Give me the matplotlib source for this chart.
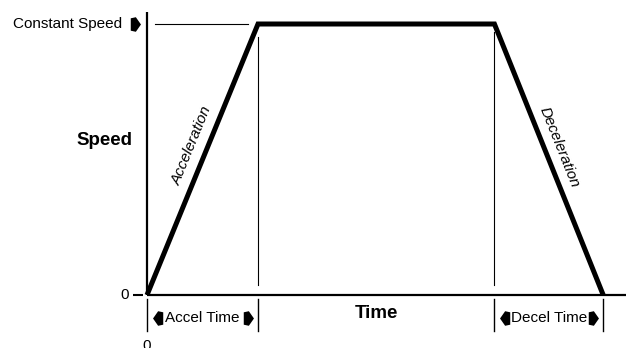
import numpy as np
import matplotlib
matplotlib.use("Agg")
import matplotlib.pyplot as plt
from matplotlib.transforms import offset_copy

plt.rcParams["font.family"] = ["Liberation Sans", "DejaVu Sans"]

# Trapezoidal speed profile (time in accel-time units, speed normalised)
time = [0.0, 1.0, 3.13, 4.11]
speed = [0.0, 1.0, 1.0, 0.0]
phase_bounds = [0.0, 1.0, 3.13, 4.11]
y_labels = ["0", "Constant Speed"]
x_labels = ["Accel Time", "Time", "Decel Time"]
axis_title = "Speed"

W, H, DPI = 626, 348, 100
fig = plt.figure(figsize=(W / DPI, H / DPI), dpi=DPI)
ax = fig.add_axes([0, 0, 1, 1])
ax.set_xlim(-147 / 111, (W - 147) / 111)
ax.set_ylim(-(H - 295) / 271, 295 / 271)
ax.axis("off")

t_acc, t_dec, t_end = time[1], time[2], time[3]
v_max = max(speed)
FS = 11


def off(dx, dy):
    return offset_copy(ax.transData, fig=fig, x=dx, y=dy, units="dots")


# axes lines
ax.plot([0, 0], [0, 1.044], color="black", lw=1.6, solid_capstyle="butt")
ax.plot([0, 5], [0, 0], color="black", lw=1.6, solid_capstyle="butt")

# speed profile
ax.plot(time, speed, color="black", lw=3.6, solid_joinstyle="miter",
        solid_capstyle="butt", zorder=5)

# constant speed reference line
ax.plot([t_acc * 0.07, t_acc * 0.91], [v_max, v_max], color="black", lw=0.8)

# phase guide lines
ax.plot([t_acc, t_acc], [0.037, 0.952], color="black", lw=0.8)
ax.plot([t_dec, t_dec], [0.037, 0.97], color="black", lw=0.8)

# phase separators below the time axis
for b in phase_bounds:
    ax.plot([b, b], [-0.015, -0.133], color="black", lw=1.0)

# y tick dash and labels
ax.plot([0], [0], marker="_", ms=7, mew=1.5, color="black",
        transform=off(-9.5, 0))
ax.text(0, 0, y_labels[0], transform=off(-18, 0), ha="right", va="center",
        fontsize=FS)
ax.text(0, v_max, y_labels[1], transform=off(-25, 0), ha="right",
        va="center", fontsize=FS)

right_arrow = [(0.75, 0), (0.05, 1), (-0.65, 0.85), (-0.65, -0.85),
               (0.05, -1)]
left_arrow = [(-x, y) for x, y in right_arrow]
AMS = 10.5
ax.plot([0], [v_max], marker=right_arrow, ms=AMS, color="black", mew=0,
        transform=off(-12, 0))

# axis titles
ax.text(0, 0.57, axis_title, transform=off(-43, 0), ha="center",
        va="center", fontsize=13.5, fontweight="bold")
ax.text((t_acc + t_dec) / 2, 0, x_labels[1], transform=off(0, -19),
        ha="center", va="center", fontsize=13.5, fontweight="bold")

# accel / decel time spans
for (a, b), lab in [((phase_bounds[0], phase_bounds[1]), x_labels[0]),
                    ((phase_bounds[2], phase_bounds[3]), x_labels[2])]:
    ax.text((a + b) / 2, 0, lab, transform=off(0, -23), ha="center",
            va="center", fontsize=FS)
    ax.plot([a], [0], marker=left_arrow, ms=AMS, color="black", mew=0,
            transform=off(11, -23))
    ax.plot([b], [0], marker=right_arrow, ms=AMS, color="black", mew=0,
            transform=off(-10, -23))

# time origin
ax.text(0, 0, "0", transform=off(0, -44), ha="center", va="top",
        fontsize=FS)

# slope labels
p0 = ax.transData.transform((time[0], speed[0]))
p1 = ax.transData.transform((time[1], speed[1]))
p2 = ax.transData.transform((time[2], speed[2]))
p3 = ax.transData.transform((time[3], speed[3]))
ang_acc = np.degrees(np.arctan2(p1[1] - p0[1], p1[0] - p0[0]))
ang_dec = np.degrees(np.arctan2(p3[1] - p2[1], p3[0] - p2[0]))

s_mid = 0.55
ax.text(t_acc * s_mid, s_mid, "Acceleration", transform=off(-16, 0),
        rotation=ang_acc, rotation_mode="anchor", ha="center", va="center",
        fontsize=FS, style="italic")
s_mid2 = 0.546
ax.text(t_dec + (1 - s_mid2) * (t_end - t_dec), s_mid2, "Deceleration",
        transform=off(15, 0), rotation=ang_dec, rotation_mode="anchor",
        ha="center", va="center", fontsize=FS, style="italic")

fig.savefig("out.png", dpi=DPI)
